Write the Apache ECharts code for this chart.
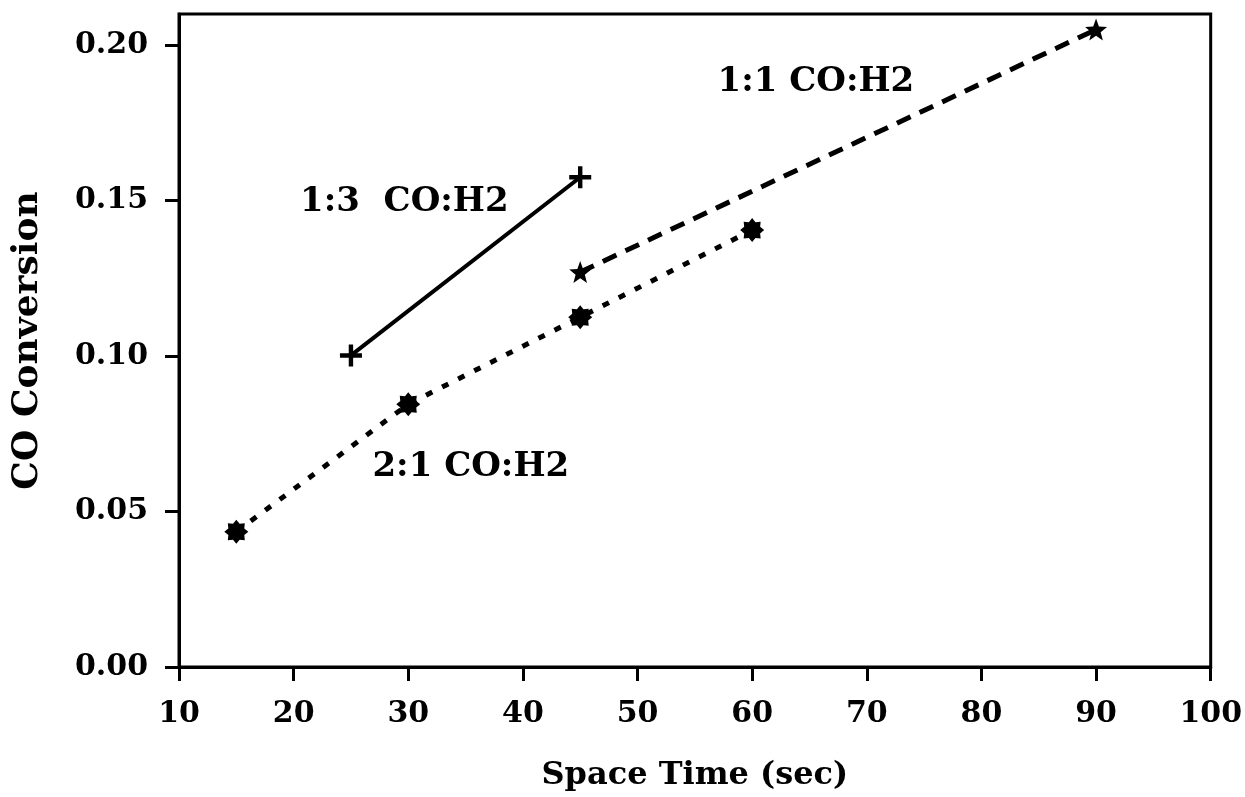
<!DOCTYPE html>
<html>
<head>
<meta charset="utf-8">
<script src="https://cdn.jsdelivr.net/npm/echarts@6/dist/echarts.min.js"></script>
<style>
html,body{margin:0;padding:0;background:#fff;}
#chart{width:1245px;height:797px;}
</style>
</head>
<body>
<div id="chart"></div>
<script>
// ---- data ----
var xTicks = [10, 20, 30, 40, 50, 60, 70, 80, 90, 100];
var yTicks = [0.00, 0.05, 0.10, 0.15, 0.20];
var ratio13 = [[25, 0.1002], [45, 0.1575]];
var ratio11 = [[45, 0.127], [90, 0.205]];
var ratio21 = [[15, 0.0435], [30, 0.0845], [45, 0.1125], [60, 0.1405]];
var labelTexts = ['1:3  CO:H2', '1:1 CO:H2', '2:1 CO:H2'];
var labelPos = [[29.7, 0.1493], [65.6, 0.188], [35.5, 0.0642]];
var xTitle = 'Space Time (sec)';
var yTitle = 'CO Conversion';

// ---- symbol shapes ----
function starPath(n, rOut, rIn) {
  var pts = [];
  for (var i = 0; i < 2 * n; i++) {
    var r = (i % 2 === 0) ? rOut : rIn;
    var a = -Math.PI / 2 + i * Math.PI / n;
    pts.push((50 + r * Math.cos(a)).toFixed(2) + ',' + (50 + r * Math.sin(a)).toFixed(2));
  }
  return 'path://M' + pts.join('L') + 'Z';
}
var plusSym = 'path://M40,0H60V40H100V60H60V100H40V60H0V40H40Z';
var starSym = starPath(5, 50, 21);
var asterSym = starPath(8, 50, 36);

var font = 'DejaVu Serif';
var chart = echarts.init(document.getElementById('chart'));

var labelData = labelPos.map(function (p, i) { return { value: p, name: labelTexts[i] }; });

chart.setOption({
  backgroundColor: '#fff',
  animation: false,
  grid: { left: 179, right: 32, top: 14, bottom: 129, show: true, borderColor: '#000', borderWidth: 3 },
  xAxis: {
    type: 'value', min: 10, max: 100, interval: 10,
    name: xTitle, nameLocation: 'middle', nameGap: 93,
    nameTextStyle: { fontFamily: font, fontWeight: 'bold', fontSize: 32, color: '#000' },
    axisLine: { show: true, lineStyle: { color: '#000', width: 3 } },
    axisTick: { show: true, inside: false, length: 14, lineStyle: { color: '#000', width: 3 } },
    axisLabel: { fontFamily: font, fontWeight: 'bold', fontSize: 30, color: '#000', margin: 32 },
    splitLine: { show: false }
  },
  yAxis: {
    type: 'value', min: 0, max: 0.21,
    name: yTitle, nameLocation: 'middle', nameGap: 133, nameRotate: 90,
    nameTextStyle: { fontFamily: font, fontWeight: 'bold', fontSize: 36, color: '#000' },
    axisLine: { show: true, lineStyle: { color: '#000', width: 3 } },
    axisTick: { show: true, inside: false, length: 14, lineStyle: { color: '#000', width: 3 }, customValues: yTicks },
    axisLabel: { fontFamily: font, fontWeight: 'bold', fontSize: 30, color: '#000', margin: 31,
      customValues: yTicks, formatter: function (v) { return v.toFixed(2); } },
    splitLine: { show: false }
  },
  series: [
    { type: 'line', data: ratio13, symbol: plusSym, symbolSize: 22,
      itemStyle: { color: '#000' }, lineStyle: { color: '#000', width: 4, type: 'solid' } },
    { type: 'line', data: ratio11, symbol: starSym, symbolSize: 22,
      itemStyle: { color: '#000' }, lineStyle: { color: '#000', width: 5, type: [15, 10] } },
    { type: 'line', data: ratio21, symbol: asterSym, symbolSize: 24,
      itemStyle: { color: '#000' }, lineStyle: { color: '#000', width: 5, type: [7, 11] } },
    { type: 'scatter', data: labelData, symbolSize: 1, silent: true,
      itemStyle: { color: 'rgba(0,0,0,0)', opacity: 1 },
      label: { show: true, position: [0, 0], align: 'center', verticalAlign: 'middle', opacity: 1,
        formatter: function (p) { return p.name; },
        fontFamily: font, fontWeight: 'bold', fontSize: 34, color: '#000' } }
  ]
});
</script>
</body>
</html>
